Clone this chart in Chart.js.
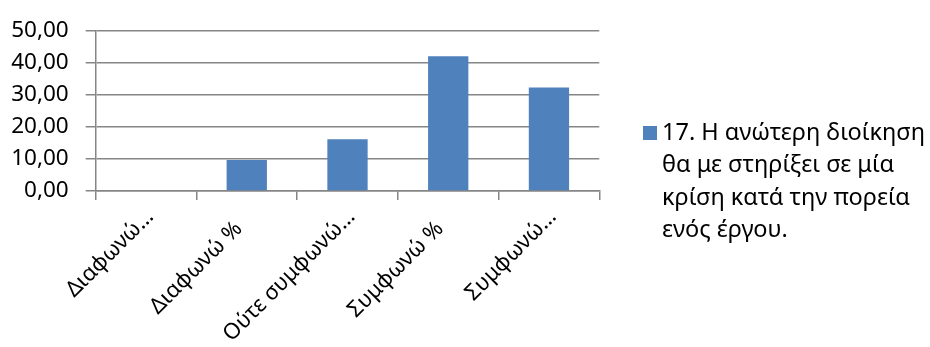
<!DOCTYPE html>
<html>
<head>
<meta charset="utf-8">
<title>Ερώτηση 17</title>
<script src="https://cdn.jsdelivr.net/npm/chart.js@4.4.0/dist/chart.umd.min.js"></script>
<style>
  html, body { margin: 0; padding: 0; background: #fff; }
  #wrap { position: relative; width: 930px; height: 347px; }
  #legend {
    position: absolute; left: 643px; top: 114.6px;
    font-family: "Noto Sans", sans-serif; font-size: 23.5px; line-height: 32.5px; color: #000;
  }
  #legend .box { position: absolute; left: 0; top: 11.4px; width: 14px; height: 14px; }
  #legend .text { margin-left: 19px; white-space: nowrap; }
</style>
</head>
<body>
<div id="wrap">
  <canvas id="myBarChart" width="930" height="347"></canvas>
  <div id="legend"></div>
</div>
<script>
"use strict";

// categories (as shown on the axis, % rows carry trailing spaces) and percentages
const categories = ['Διαφωνώ…', 'Διαφωνώ %   ', 'Ούτε συμφωνώ…', 'Συμφωνώ %   ', 'Συμφωνώ…'];
const percentages = [0, 9.68, 16.13, 41.94, 32.26];
const yTicks = [0, 10, 20, 30, 40, 50];
const seriesName = ['17. Η ανώτερη διοίκηση', 'θα με στηρίξει σε μία', 'κρίση κατά την πορεία', 'ενός έργου.'];

const barColor = '#4F81BD';
const gridColor = '#868686';
const fontFamily = '"Noto Sans", sans-serif';

const barCtx = document.getElementById('myBarChart').getContext('2d');
const myBarChart = new Chart(barCtx, {
  type: 'bar',
  data: {
    labels: categories,
    datasets: [{
      label: seriesName.join(' '),
      data: percentages,
      backgroundColor: barColor,
      barPercentage: 0.4,
      categoryPercentage: 1
    }]
  },
  options: {
    responsive: false,
    animation: false,
    layout: { padding: { left: 0, top: 22, right: 330.7, bottom: 0 } },
    plugins: {
      legend: { display: false },
      tooltip: { enabled: false }
    },
    scales: {
      x: {
        grid: { offset: true, drawOnChartArea: false, color: gridColor, lineWidth: 1.5, tickLength: 9 },
        border: { display: true, color: gridColor, width: 1.5 },
        ticks: {
          color: '#000',
          font: { family: fontFamily, size: 22 },
          minRotation: 45, maxRotation: 45,
          autoSkip: false,
          padding: 4,
          labelOffset: 4
        },
        afterFit: function(scale) { scale.height = 156; }
      },
      y: {
        min: 0, max: 50,
        afterBuildTicks: function(scale) { scale.ticks = yTicks.map(v => ({ value: v })); },
        grid: { color: gridColor, lineWidth: 1.5, tickLength: 10 },
        border: { display: true, color: gridColor, width: 1.5 },
        ticks: {
          color: '#000',
          font: { family: fontFamily, size: 22.5 },
          padding: 17,
          callback: function(value) { return value.toFixed(2).replace('.', ','); }
        },
        afterFit: function(scale) { scale.width = 95.7; }
      }
    }
  }
});

// legend on the right, one line per row of the series name
const legendEl = document.getElementById('legend');
const box = document.createElement('div');
box.className = 'box';
box.style.background = barColor;
legendEl.appendChild(box);
seriesName.forEach(function(line) {
  const row = document.createElement('div');
  row.className = 'text';
  row.textContent = line;
  legendEl.appendChild(row);
});
</script>
</body>
</html>
